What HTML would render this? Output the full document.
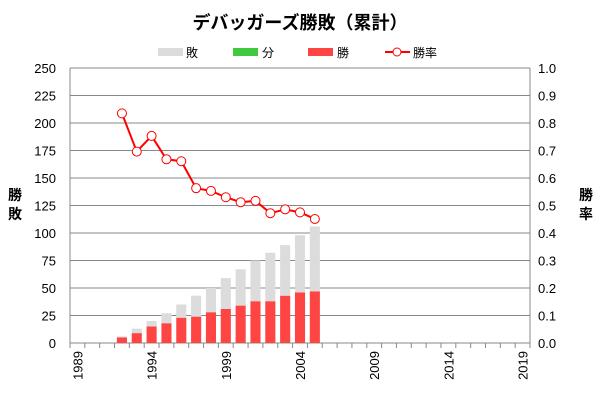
<!DOCTYPE html>
<html><head><meta charset="utf-8"><style>
body{margin:0;background:#fff}
svg text{font-family:"Liberation Sans","Noto Sans CJK JP",sans-serif}
</style></head><body>
<svg id="c" width="600" height="400" xmlns="http://www.w3.org/2000/svg">
<text x="300" y="29" text-anchor="middle" font-size="18" font-weight="bold">デバッガーズ勝敗（累計）</text>
<g>
<rect x="158" y="48" width="25" height="8" fill="#dcdcdc"/>
<text x="186" y="57" font-size="12">敗</text>
<rect x="233" y="48" width="25" height="8" fill="#3fc93f"/>
<text x="262" y="57" font-size="12">分</text>
<rect x="308" y="48" width="25" height="8" fill="#ff4444"/>
<text x="337" y="57" font-size="12">勝</text>
<line x1="385" y1="52" x2="410" y2="52" stroke="#f00" stroke-width="2"/>
<circle cx="397" cy="52" r="4" fill="#fff" stroke="#f00"/>
<text x="413" y="57" font-size="12">勝率</text>
</g>
<text x="15" y="200" text-anchor="middle" font-size="14" font-weight="bold"><tspan x="15">勝</tspan><tspan x="15" dy="19">敗</tspan></text>
<text x="586" y="200" text-anchor="middle" font-size="14" font-weight="bold"><tspan x="586">勝</tspan><tspan x="586" dy="19">率</tspan></text>
<g id="g"></g>
</svg>
<script>
const years=[];for(let y=1989;y<=2019;y++)years.push(y);
const dataYears=[1992,1993,1994,1995,1996,1997,1998,1999,2000,2001,2002,2003,2004,2005];
const wins=[5,9,15,18,23,24,28,31,34,38,38,43,46,47];
const draws=[0,0,0,0,0,0,0,0,0,0,0,0,0,0];
const losses=[1,4,5,9,12,19,22,28,33,37,44,46,52,59];
const rates=[0.835,0.696,0.753,0.668,0.661,0.563,0.553,0.53,0.512,0.517,0.472,0.486,0.475,0.451];
const leftTicks=[0,25,50,75,100,125,150,175,200,225,250];
const rightTicks=["0.0","0.1","0.2","0.3","0.4","0.5","0.6","0.7","0.8","0.9","1.0"];
const xLabels=[1989,1994,1999,2004,2009,2014,2019];
const L=70,R=530,T=68,B=343,NS="http://www.w3.org/2000/svg";
const bw=(R-L)/years.length;
const xc=y=>L+(years.indexOf(y)+0.5)*bw;
const yl=v=>B-(v/250)*(B-T);
const yr=v=>B-v*(B-T);
const g=document.getElementById('g');
function mk(t,a){const e=document.createElementNS(NS,t);for(const k in a)e.setAttribute(k,a[k]);g.appendChild(e);return e;}
leftTicks.forEach((v,i)=>{
 const ln=mk('line',{x1:L,x2:R,y1:yl(v),y2:yl(v),stroke:'#888','stroke-width':1});
 
 
 const t=mk('text',{x:56,y:yl(v)+5,'text-anchor':'end','font-size':13});t.textContent=v;
 
 
 const t2=mk('text',{x:538,y:yr(i/10)+5,'font-size':13});t2.textContent=rightTicks[i];
 
 
});
const ax=mk('line',{x1:L,x2:L,y1:T,y2:B,stroke:'#888'});


const ax2=mk('line',{x1:R,x2:R,y1:T,y2:B,stroke:'#888'});


for(let i=0;i<=years.length;i++){
 const tk=mk('line',{x1:L+i*bw,x2:L+i*bw,y1:B,y2:B+5,stroke:'#888'});
 
 
}
xLabels.forEach(y=>{
 const x=xc(y)+5;
 const t=mk('text',{x:x,y:B+8,'text-anchor':'end','font-size':13,transform:`rotate(-90 ${x} ${B+8})`});t.textContent=y;
 
 
});
const w=bw*0.68;
dataYears.forEach((y,i)=>{
 const x=xc(y)-w/2;
 const r1=mk('rect',{x:x,y:yl(wins[i]),width:w,height:B-yl(wins[i]),fill:'#ff4444'});
 
 
 const r2=mk('rect',{x:x,y:yl(wins[i]+draws[i]),width:w,height:yl(wins[i])-yl(wins[i]+draws[i]),fill:'#3fc93f'});
 
 
 const top=wins[i]+draws[i]+losses[i];
 const r3=mk('rect',{x:x,y:yl(top),width:w,height:yl(wins[i]+draws[i])-yl(top),fill:'#dcdcdc'});
 
 
});
const pl=mk('polyline',{points:dataYears.map((y,i)=>xc(y)+','+yr(rates[i])).join(' '),fill:'none',stroke:'#f00','stroke-width':2});


dataYears.forEach((y,i)=>{
 const c=mk('circle',{cx:xc(y),cy:yr(rates[i]),r:4.5,fill:'#fff',stroke:'#f00','stroke-width':1});
 
 
});
</script>
</body></html>
